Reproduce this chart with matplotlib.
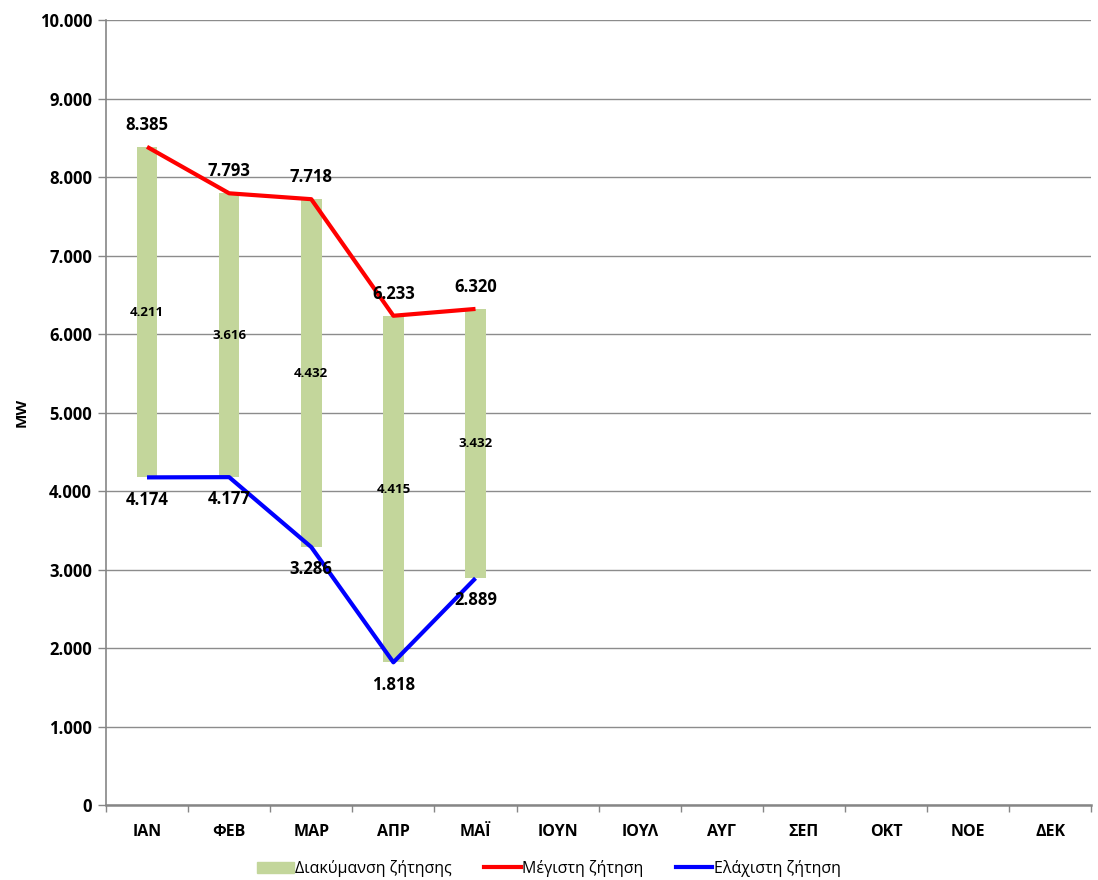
import numpy as np
import matplotlib
matplotlib.use("Agg")
import matplotlib.pyplot as plt
from matplotlib.lines import Line2D
from matplotlib.patches import Patch

plt.rcParams['font.family'] = ['Open Sans', 'DejaVu Sans']

months = ['ΙΑΝ', 'ΦΕΒ', 'ΜΑΡ', 'ΑΠΡ', 'ΜΑΪ', 'ΙΟΥΝ', 'ΙΟΥΛ', 'ΑΥΓ', 'ΣΕΠ', 'ΟΚΤ', 'ΝΟΕ', 'ΔΕΚ']
max_demand = [8385, 7793, 7718, 6233, 6320]
min_demand = [4174, 4177, 3286, 1818, 2889]
demand_range = [4211, 3616, 4432, 4415, 3432]


def fmt(v):
    return f"{v:,.0f}".replace(",", ".")


fig = plt.figure(figsize=(10.98, 8.8), dpi=100)
ax = fig.add_axes([0.0965, 0.0852, 0.8975, 0.892])

x_all = np.arange(len(months))
x = np.arange(len(max_demand))

ax.bar(x, demand_range, bottom=min_demand, width=0.25, color='#c3d69b', zorder=2)
ax.plot(x, max_demand, color='#ff0000', lw=3, zorder=3, solid_capstyle='butt')
ax.plot(x, min_demand, color='#0000ff', lw=3, zorder=3, solid_capstyle='butt')

for xi, lo, r in zip(x, min_demand, demand_range):
    ax.text(xi, lo + r / 2, fmt(r), ha='center', va='center', fontsize=9.5,
            fontweight='bold', zorder=4)
for xi, v in zip(x, max_demand):
    ax.annotate(fmt(v), (xi, v), xytext=(0, 16), textcoords='offset points',
                ha='center', va='center', fontsize=12, fontweight='bold', zorder=4)
for xi, v in zip(x, min_demand):
    ax.annotate(fmt(v), (xi, v), xytext=(0, -16), textcoords='offset points',
                ha='center', va='center', fontsize=12, fontweight='bold', zorder=4)

ax.set_xlim(-0.5, len(months) - 0.5)
ax.set_ylim(0, 10000)
ax.set_yticks(np.arange(0, 10001, 1000))
ax.set_yticklabels([fmt(v) for v in np.arange(0, 10001, 1000)],
                   fontsize=12, fontweight='bold')
ax.set_xticks(x_all)
ax.set_xticklabels(months, fontsize=11.5, fontweight='bold')
ax.set_xticks(np.arange(-0.5, len(months), 1), minor=True)
ax.tick_params(axis='x', which='major', length=0, pad=14)
ax.tick_params(axis='x', which='minor', length=5, color='#868686', width=1)
ax.tick_params(axis='y', length=6, color='#868686', width=1, pad=4)

ax.grid(axis='y', color='#8c8c8c', lw=1, zorder=0)
ax.set_axisbelow(True)
for s in ['top', 'right']:
    ax.spines[s].set_visible(False)
ax.spines['left'].set_color('#868686')
ax.spines['left'].set_linewidth(1.2)
ax.spines['bottom'].set_color('#868686')
ax.spines['bottom'].set_linewidth(1.8)

ax.set_ylabel('MW', fontsize=11, fontweight='bold', labelpad=8)

handles = [Patch(color='#c3d69b'),
           Line2D([], [], color='#ff0000', lw=3),
           Line2D([], [], color='#0000ff', lw=3)]
labels = ['Διακύμανση ζήτησης', 'Μέγιστη ζήτηση', 'Ελάχιστη ζήτηση']
fig.legend(handles, labels, loc='center', bbox_to_anchor=(0.5, 0.013),
           ncol=3, frameon=False, fontsize=11.5, handlelength=2.3,
           handletextpad=0.1, columnspacing=2.0)

fig.savefig('out.png', dpi=100)
